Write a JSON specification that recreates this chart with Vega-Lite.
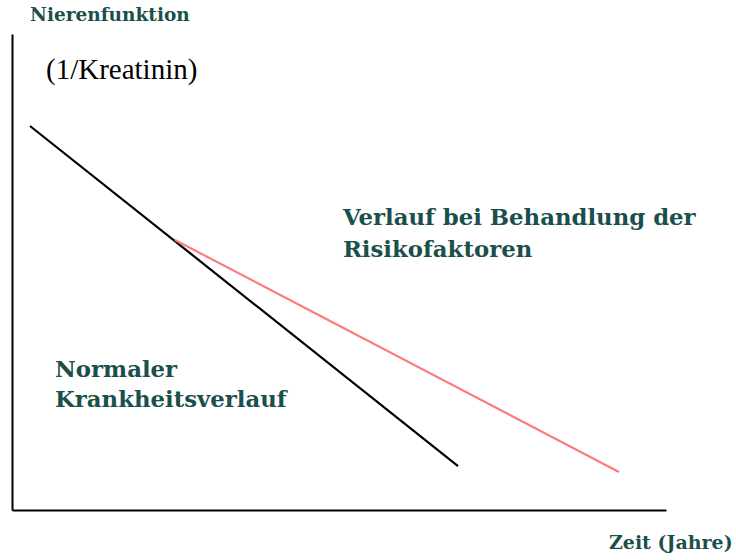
{
  "$schema": "https://vega.github.io/schema/vega-lite/v6.json",
  "width": 654,
  "height": 476,
  "autosize": {"type": "none"},
  "padding": {"left": 12, "top": 34, "right": 70, "bottom": 50},
  "background": "white",
  "config": {"view": {"stroke": null}},
  "datasets": {
    "lines": [
      {"series": "normal", "t": 2.75, "f": 80.67},
      {"series": "normal", "t": 68.2, "f": 9.24},
      {"series": "treated", "t": 24.92, "f": 56.72},
      {"series": "treated", "t": 92.81, "f": 7.98}
    ],
    "labels": [
      {"label": "Nierenfunktion", "t": 2.75, "f": 104, "kind": "axis"},
      {"label": "Verlauf bei Behandlung der", "t": 50.6, "f": 61.3, "kind": "note"},
      {"label": "Risikofaktoren", "t": 50.6, "f": 54.6, "kind": "note"},
      {"label": "Normaler", "t": 6.57, "f": 29.4, "kind": "note"},
      {"label": "Krankheitsverlauf", "t": 6.57, "f": 23.1, "kind": "note"},
      {"label": "Zeit (Jahre)", "t": 110.2, "f": -6.9, "kind": "xaxis"}
    ],
    "sub": [
      {"label": "(1/Kreatinin)", "t": 5.2, "f": 92.4}
    ]
  },
  "encoding": {
    "x": {"field": "t", "type": "quantitative", "scale": {"domain": [0, 100], "nice": false, "zero": false},
      "axis": {"orient": "bottom", "labels": false, "ticks": false, "grid": false, "title": null, "domainColor": "#000000", "domainWidth": 2}},
    "y": {"field": "f", "type": "quantitative", "scale": {"domain": [0, 100], "nice": false, "zero": false},
      "axis": {"orient": "left", "labels": false, "ticks": false, "grid": false, "title": null, "domainColor": "#000000", "domainWidth": 2}}
  },
  "layer": [
    {
      "data": {"name": "lines"},
      "transform": [{"filter": "datum.series === 'normal'"}],
      "mark": {"type": "line", "color": "#000000", "strokeWidth": 2.2},
      "encoding": {}
    },
    {
      "data": {"name": "lines"},
      "transform": [{"filter": "datum.series === 'treated'"}],
      "mark": {"type": "line", "color": "#ff7b7b", "strokeWidth": 2.2},
      "encoding": {}
    },
    {
      "data": {"name": "labels"},
      "transform": [{"filter": "datum.kind === 'axis'"}],
      "mark": {"type": "text", "align": "left", "baseline": "middle", "font": "DejaVu Serif", "fontWeight": "bold", "fontSize": 18.5, "color": "#1b4f4b"},
      "encoding": {"text": {"field": "label"}}
    },
    {
      "data": {"name": "labels"},
      "transform": [{"filter": "datum.kind === 'note'"}],
      "mark": {"type": "text", "align": "left", "baseline": "middle", "font": "DejaVu Serif", "fontWeight": "bold", "fontSize": 22.8, "color": "#1b4f4b"},
      "encoding": {"text": {"field": "label"}}
    },
    {
      "data": {"name": "labels"},
      "transform": [{"filter": "datum.kind === 'xaxis'"}],
      "mark": {"type": "text", "align": "right", "baseline": "middle", "font": "DejaVu Serif", "fontWeight": "bold", "fontSize": 19, "color": "#1b4f4b"},
      "encoding": {"text": {"field": "label"}}
    },
    {
      "data": {"name": "sub"},
      "mark": {"type": "text", "align": "left", "baseline": "middle", "font": "'Liberation Serif', serif", "fontSize": 29, "color": "#000000"},
      "encoding": {"text": {"field": "label"}}
    }
  ]
}
